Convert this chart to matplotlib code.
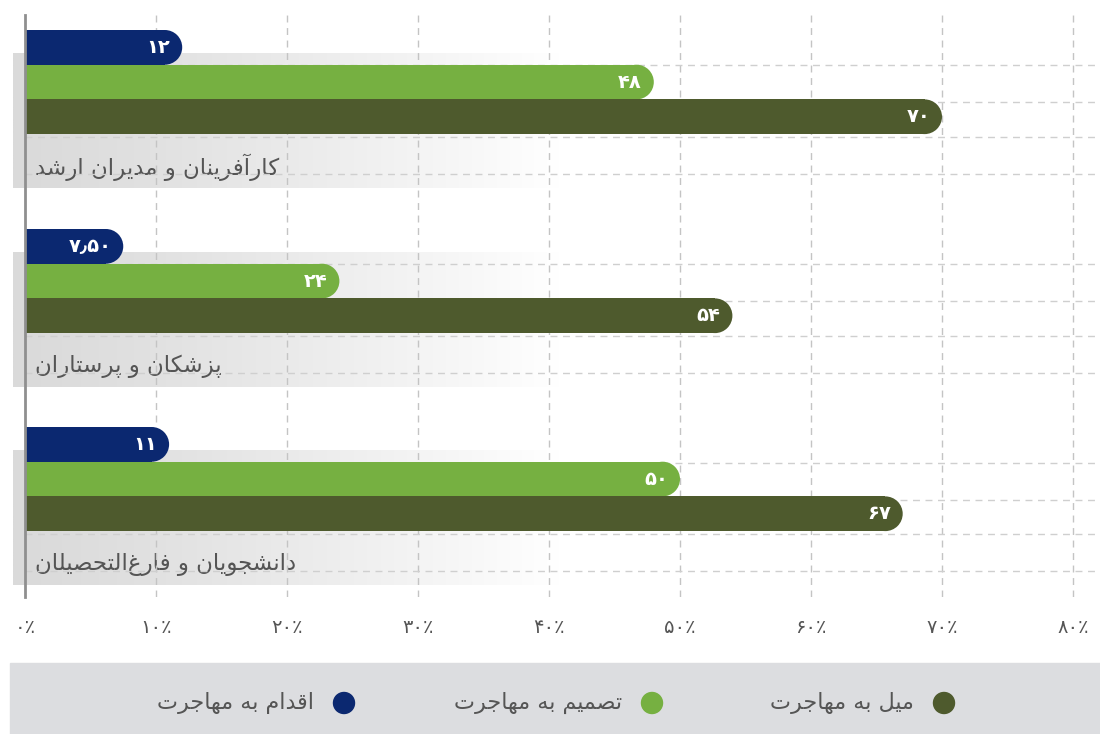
import numpy as np
import matplotlib
matplotlib.use('Agg')
import matplotlib.pyplot as plt
from matplotlib.patches import Rectangle, Ellipse, Circle

plt.rcParams['font.family'] = ['DejaVu Sans']

# data
groups = ['کارآفرینان و مدیران ارشد', 'پزشکان و پرستاران', 'دانشجویان و فارغ\u200cالتحصیلان']
series = ['اقدام به مهاجرت', 'تصمیم به مهاجرت', 'میل به مهاجرت']
action = [12, 7.5, 11]
decision = [48, 24, 50]
desire = [70, 54, 67]
value_labels = [['۱۲', '۴۸', '۷۰'], ['۷٫۵۰', '۲۴', '۵۴'], ['۱۱', '۵۰', '۶۷']]
ticks = [0, 10, 20, 30, 40, 50, 60, 70, 80]
tick_labels = ['۰٪', '۱۰٪', '۲۰٪', '۳۰٪', '۴۰٪', '۵۰٪', '۶۰٪', '۷۰٪', '۸۰٪']

colors = ['#0b2870', '#76b041', '#4e5a2d']

# matplotlib has no arabic shaping, so pick presentation forms by hand
FORMS = {
    '\u0627': ('\uFE8D', '\uFE8E', None, None),
    '\u0622': ('\uFE81', '\uFE82', None, None),
    '\u0628': ('\uFE8F', '\uFE90', '\uFE91', '\uFE92'),
    '\u062A': ('\uFE95', '\uFE96', '\uFE97', '\uFE98'),
    '\u062C': ('\uFE9D', '\uFE9E', '\uFE9F', '\uFEA0'),
    '\u062D': ('\uFEA1', '\uFEA2', '\uFEA3', '\uFEA4'),
    '\u062F': ('\uFEA9', '\uFEAA', None, None),
    '\u0631': ('\uFEAD', '\uFEAE', None, None),
    '\u0632': ('\uFEAF', '\uFEB0', None, None),
    '\u0633': ('\uFEB1', '\uFEB2', '\uFEB3', '\uFEB4'),
    '\u0634': ('\uFEB5', '\uFEB6', '\uFEB7', '\uFEB8'),
    '\u0635': ('\uFEB9', '\uFEBA', '\uFEBB', '\uFEBC'),
    '\u063A': ('\uFECD', '\uFECE', '\uFECF', '\uFED0'),
    '\u0641': ('\uFED1', '\uFED2', '\uFED3', '\uFED4'),
    '\u0642': ('\uFED5', '\uFED6', '\uFED7', '\uFED8'),
    '\u0644': ('\uFEDD', '\uFEDE', '\uFEDF', '\uFEE0'),
    '\u0645': ('\uFEE1', '\uFEE2', '\uFEE3', '\uFEE4'),
    '\u0646': ('\uFEE5', '\uFEE6', '\uFEE7', '\uFEE8'),
    '\u0647': ('\uFEE9', '\uFEEA', '\uFEEB', '\uFEEC'),
    '\u0648': ('\uFEED', '\uFEEE', None, None),
    '\u06CC': ('\uFBFC', '\uFBFD', '\uFBFE', '\uFBFF'),
    '\u06A9': ('\uFB8E', '\uFB8F', '\uFB90', '\uFB91'),
    '\u067E': ('\uFB56', '\uFB57', '\uFB58', '\uFB59'),
}


def shape(text):
    out = []
    for i, c in enumerate(text):
        if c not in FORMS:
            if c != '\u200c':
                out.append(c)
            continue
        prev = text[i - 1] if i > 0 else None
        nxt = text[i + 1] if i + 1 < len(text) else None
        iso, fin, ini, med = FORMS[c]
        jp = prev in FORMS and FORMS[prev][2] is not None
        jn = ini is not None and nxt in FORMS
        if jp and jn:
            out.append(med)
        elif jp:
            out.append(fin)
        elif jn:
            out.append(ini)
        else:
            out.append(iso)
    return ''.join(reversed(out))


W, H = 1100, 734
fig = plt.figure(figsize=(11, 7.34), dpi=100)

# background layer in pixel coords: bands, labels, legend
bg = fig.add_axes([0, 0, 1, 1])
bg.set_xlim(0, W)
bg.set_ylim(H, 0)
bg.axis('off')

x0_px, x80_px = 25, 1073
top_px, bot_px = 15, 597
group_top = [30, 229, 427]
bar_h = 34.7

grad = np.linspace(0, 1, 300)
grad = 218 + 37 * grad ** 1.2
grad_img = np.dstack([grad, grad, grad]) / 255.0
for g, t in enumerate(group_top):
    bg.imshow(grad_img, extent=(13, 560, t + 158, t + 23), aspect='auto',
              interpolation='bilinear', zorder=0)
    bg.text(35, t + 137, shape(groups[g]), fontsize=16.5, color='#555555',
            ha='left', va='center', zorder=1)

bg.add_patch(Rectangle((10, 663), W - 10, H - 663, color='#dcdde0', zorder=0))
leg_x = [944, 652, 344]
for i, s in enumerate([2, 1, 0]):
    bg.add_patch(Circle((leg_x[i], 703), 10.5, color=colors[s], zorder=2))
    bg.text(leg_x[i] - 30, 703, shape(series[s]), fontsize=16, color='#555555',
            ha='right', va='center', zorder=2)

# main axes
ax = fig.add_axes([x0_px / W, (H - bot_px) / H, (W - x0_px) / W, (bot_px - top_px) / H])
ax.patch.set_alpha(0)
xmax = 80 * (W - x0_px) / (x80_px - x0_px)
ax.set_xlim(0, xmax)
ax.set_ylim(bot_px, top_px)
for sp in ['top', 'right', 'bottom']:
    ax.spines[sp].set_visible(False)
ax.spines['left'].set_color('#8f8f8f')
ax.spines['left'].set_linewidth(2)
ax.spines['left'].set_zorder(4)
ax.set_yticks([])
ax.set_xticks(ticks)
ax.set_xticklabels(tick_labels)
ax.tick_params(axis='x', length=0, pad=15, labelsize=14, labelcolor='#555555')

for v in ticks[1:]:
    ax.axvline(v, color='#c4c4c4', lw=1, ls=(0, (5, 4)), zorder=1)
for t in group_top:
    for off in [35.5, 72.5, 107, 144]:
        ax.axhline(t + off, color='#cfcfcf', lw=1, ls=(0, (5, 4)), zorder=1)

px_per_unit = (x80_px - x0_px) / 80
rx = (bar_h / 2) / px_per_unit
for g, t in enumerate(group_top):
    vals = [action[g], decision[g], desire[g]]
    for k, v in enumerate(vals):
        yc = t + bar_h * k + bar_h / 2
        ax.barh(yc, v - rx, height=bar_h, left=0, color=colors[k], zorder=3,
                linewidth=0)
        ax.add_patch(Ellipse((v - rx, yc), 2 * rx, bar_h, color=colors[k],
                             zorder=3, linewidth=0))
        ax.text(v - 12 / px_per_unit, yc, value_labels[g][k], color='white',
                fontsize=14, fontweight='bold', ha='right', va='center', zorder=5)

fig.savefig('out.png', dpi=100)
